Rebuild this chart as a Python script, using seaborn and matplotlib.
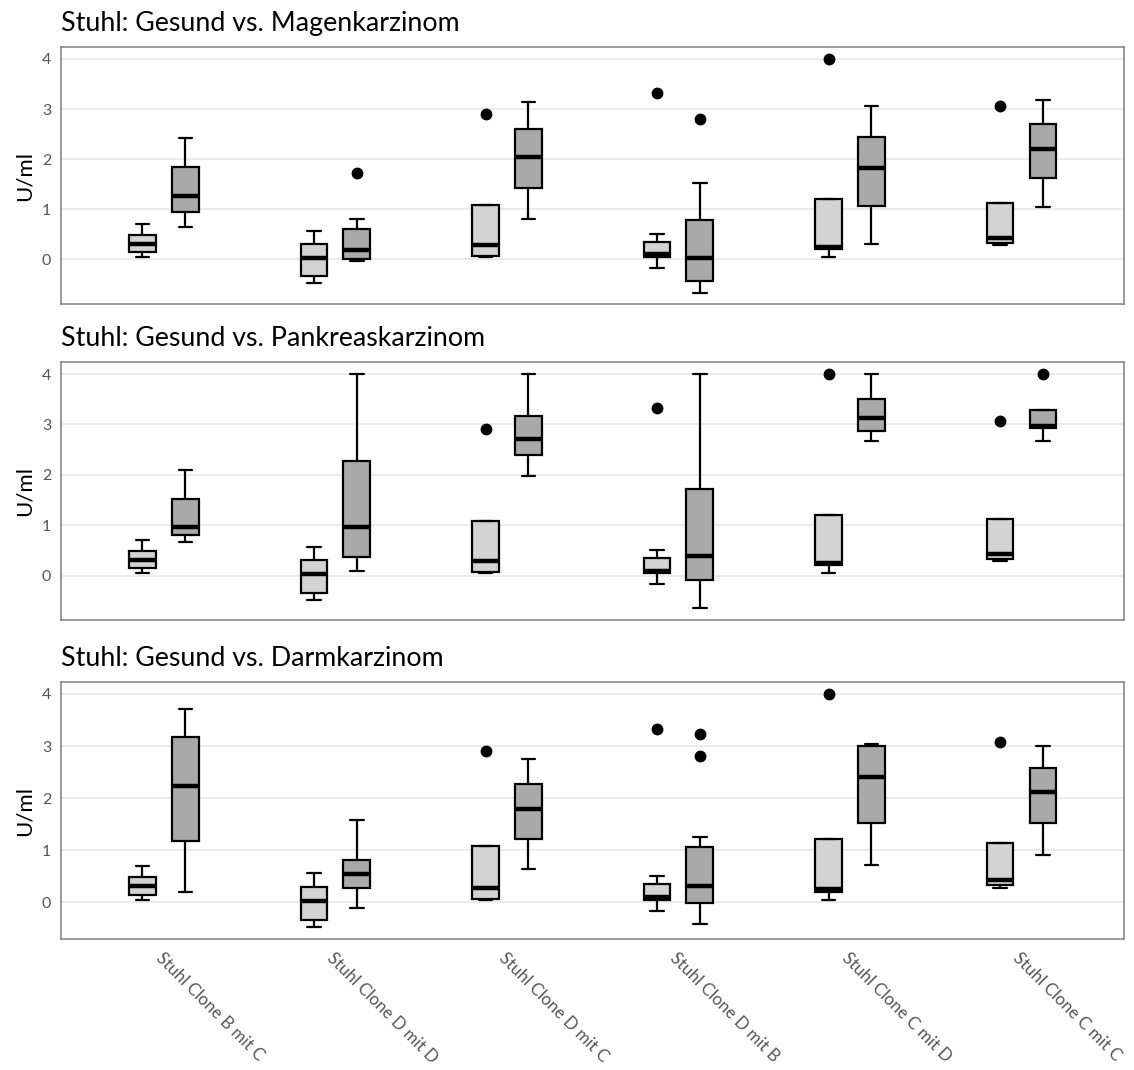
import numpy as np
import pandas as pd
import matplotlib
matplotlib.use("Agg")
import matplotlib.pyplot as plt
import seaborn as sns

# categories on the x axis
categories = ["Stuhl Clone B mit C", "Stuhl Clone D mit D", "Stuhl Clone D mit C",
              "Stuhl Clone D mit B", "Stuhl Clone C mit D", "Stuhl Clone C mit C"]
groups = ["Gesund", "Karzinom"]
titles = ["Stuhl: Gesund vs. Magenkarzinom",
          "Stuhl: Gesund vs. Pankreaskarzinom",
          "Stuhl: Gesund vs. Darmkarzinom"]

# box statistics (lower whisker, Q1, median, Q3, upper whisker, outliers)
# healthy controls (same in all three panels)
gesund_lo = [0.05, -0.48, 0.05, -0.17, 0.05, 0.28]
gesund_q1 = [0.15, -0.34, 0.07, 0.05, 0.20, 0.33]
gesund_med = [0.31, 0.03, 0.28, 0.10, 0.25, 0.42]
gesund_q3 = [0.48, 0.30, 1.09, 0.35, 1.21, 1.13]
gesund_hi = [0.70, 0.56, 1.09, 0.51, 1.21, 1.13]
gesund_out = [[], [], [2.90], [3.33], [4.00], [3.07]]

# Magenkarzinom
magen_lo = [0.64, -0.03, 0.81, -0.67, 0.31, 1.05]
magen_q1 = [0.95, 0.01, 1.42, -0.44, 1.06, 1.62]
magen_med = [1.26, 0.19, 2.05, 0.03, 1.82, 2.20]
magen_q3 = [1.85, 0.61, 2.60, 0.78, 2.44, 2.70]
magen_hi = [2.43, 0.81, 3.14, 1.52, 3.06, 3.19]
magen_out = [[], [1.72], [], [2.80], [], []]

# Pankreaskarzinom
pank_lo = [0.67, 0.10, 1.98, -0.65, 2.68, 2.68]
pank_q1 = [0.80, 0.36, 2.39, -0.08, 2.86, 2.92]
pank_med = [0.96, 0.97, 2.72, 0.39, 3.13, 2.97]
pank_q3 = [1.52, 2.27, 3.16, 1.71, 3.50, 3.28]
pank_hi = [2.10, 4.00, 4.00, 4.00, 4.00, 3.28]
pank_out = [[], [], [], [], [], [4.00]]

# Darmkarzinom
darm_lo = [0.19, -0.11, 0.64, -0.41, 0.71, 0.91]
darm_q1 = [1.17, 0.28, 1.21, -0.02, 1.53, 1.52]
darm_med = [2.24, 0.55, 1.80, 0.31, 2.41, 2.12]
darm_q3 = [3.17, 0.82, 2.27, 1.06, 3.01, 2.58]
darm_hi = [3.72, 1.59, 2.76, 1.25, 3.03, 3.01]
darm_out = [[], [], [], [3.24, 2.80], [], []]


def box_values(lo, q1, med, q3, hi, out):
    # 13 values whose quartiles / whiskers reproduce the read statistics
    out = sorted(out)
    tail = [hi] * (3 - len(out)) + out
    return [lo, lo, lo, q1, q1, q1, med, q3, q3, q3] + tail


def make_df(stats_k):
    rows = []
    stats_g = (gesund_lo, gesund_q1, gesund_med, gesund_q3, gesund_hi, gesund_out)
    for i, cat in enumerate(categories):
        for grp, st in zip(groups, [stats_g, stats_k]):
            vals = box_values(*[s[i] for s in st])
            for v in vals:
                rows.append({"cat": cat, "group": grp, "value": v})
    return pd.DataFrame(rows)


panels = [
    (magen_lo, magen_q1, magen_med, magen_q3, magen_hi, magen_out),
    (pank_lo, pank_q1, pank_med, pank_q3, pank_hi, pank_out),
    (darm_lo, darm_q1, darm_med, darm_q3, darm_hi, darm_out),
]

sns.set_style("white")
plt.rcParams["font.family"] = ["Lato", "DejaVu Sans"]

fig = plt.figure(figsize=(11.34, 10.7), dpi=100)
W, H = 1134, 1070
ax_pos = [(47.3, 304.3), (362.3, 620.0), (682.3, 939.0)]

for k, (stats_k, title, (top, bot)) in enumerate(zip(panels, titles, ax_pos)):
    ax = fig.add_axes([61 / W, 1 - bot / H, 1063.4 / W, (bot - top) / H])
    df = make_df(stats_k)
    sns.boxplot(data=df, x="cat", y="value", hue="group", order=categories,
                hue_order=groups, palette=["#D3D3D3", "#A9A9A9"],
                width=0.5, gap=0.375, linecolor="black", linewidth=1.6,
                fliersize=7.5, legend=False, ax=ax,
                medianprops=dict(linewidth=3.2, color="black"),
                flierprops=dict(marker="o", markerfacecolor="black",
                                markeredgecolor="black"))
    vmin = df["value"].min()
    vmax = df["value"].max()
    pad = (vmax - vmin) * 0.05
    ax.set_ylim(vmin - pad, vmax + pad)
    ax.set_xlim(-0.6, len(categories) - 0.4)
    ax.set_yticks([0, 1, 2, 3, 4])
    ax.yaxis.grid(True, color="#EBEBEB", linewidth=1.4)
    ax.xaxis.grid(False)
    ax.set_axisbelow(True)
    for sp in ax.spines.values():
        sp.set_color("#7F7F7F")
        sp.set_linewidth(1.1)
    ax.tick_params(axis="both", length=4, width=1, color="#555555",
                   labelcolor="#555555", labelsize=11.5)
    ax.tick_params(axis="y", pad=3)
    ax.set_xlabel("")
    ax.set_ylabel("U/ml", fontsize=16, color="black", labelpad=5)
    ax.set_title(title, loc="left", fontsize=19.3, pad=12, color="black")
    if k < 2:
        ax.set_xticklabels([])
    else:
        ax.set_xticks(range(len(categories)))
        ax.set_xticklabels(categories, rotation=-45, ha="left", va="top",
                           rotation_mode="anchor", fontsize=12.2)

fig.savefig("out.png", dpi=100)
